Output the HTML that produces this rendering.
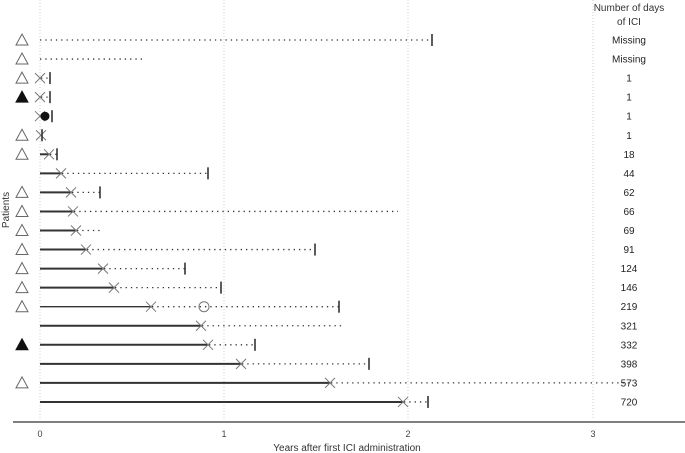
<!DOCTYPE html>
<html><head><meta charset="utf-8"><style>
html,body{margin:0;padding:0;background:#fff;}
svg{display:block;font-family:"Liberation Sans",sans-serif;}
</style></head><body>
<svg width="685" height="453" viewBox="0 0 685 453" xmlns="http://www.w3.org/2000/svg">
<g stroke="#ccc" stroke-width="1" stroke-dasharray="1,2">
<line x1="40" y1="0" x2="40" y2="420"/><line x1="224" y1="0" x2="224" y2="420"/>
<line x1="408" y1="0" x2="408" y2="420"/><line x1="593" y1="0" x2="593" y2="420"/>
</g>
<line x1="13" y1="422" x2="685" y2="422" stroke="#333" stroke-width="1.2"/>
<g font-size="9" fill="#444" text-anchor="middle">
<text x="40" y="437">0</text><text x="224" y="437">1</text><text x="408" y="437">2</text><text x="593" y="437">3</text>
</g>
<text x="347" y="451" font-size="10" fill="#333" text-anchor="middle">Years after first ICI administration</text>
<text transform="translate(9,210) rotate(-90)" font-size="10" fill="#333" text-anchor="middle">Patients</text>
<text x="629" y="11" font-size="10" fill="#333" text-anchor="middle">Number of days</text>
<text x="629" y="25" font-size="10" fill="#333" text-anchor="middle">of ICI</text>
<g id="rows"></g>
</svg>
<script>
var rows=[
[null,432,true,'o','Missing'],
[null,145,false,'o','Missing'],
[40,50,true,'o','1'],
[40,50,true,'f','1'],
[40,52,true,'','1'],
[41,42,true,'o','1'],
[49,57,true,'o','18'],
[61,208,true,'','44'],
[71,100,true,'o','62'],
[73,398,false,'o','66'],
[76,100,false,'o','69'],
[86,315,true,'o','91'],
[103,185,true,'o','124'],
[114,221,true,'o','146'],
[151,339,true,'o','219'],
[201,344,false,'','321'],
[208,255,true,'f','332'],
[241,369,true,'','398'],
[330,630,false,'o','573'],
[403,428,true,'','720']];
var s='';
rows.forEach(function(r,i){
 var y=40+i*19.05;
 var x=r[0];
 if(x!==null){
  if(x>41) s+='<line x1="40" y1="'+y+'" x2="'+x+'" y2="'+y+'" stroke="#333" stroke-width="'+(i==14?1.3:2)+'"/>';
  s+='<line x1="'+(x+1)+'" y1="'+y+'" x2="'+r[1]+'" y2="'+y+'" stroke="#333" stroke-width="1.3" stroke-dasharray="1.3,4"/>';
  s+='<path d="M'+(x-5)+' '+(y-5)+'L'+(x+5)+' '+(y+5)+'M'+(x-5)+' '+(y+5)+'L'+(x+5)+' '+(y-5)+'" stroke="#777" stroke-width="1" fill="none"/>';
 } else {
  s+='<line x1="40" y1="'+y+'" x2="'+r[1]+'" y2="'+y+'" stroke="#333" stroke-width="1.3" stroke-dasharray="1.3,4"/>';
 }
 if(r[2]) s+='<line x1="'+r[1]+'" y1="'+(y-6)+'" x2="'+r[1]+'" y2="'+(y+6)+'" stroke="#333" stroke-width="1.6"/>';
 if(r[3]) s+='<path d="M22 '+(y-6)+'L28 '+(y+5)+'L16 '+(y+5)+'Z" fill="'+(r[3]=='f'?'#111':'none')+'" stroke="'+(r[3]=='f'?'#111':'#666')+'" stroke-width="1"/>';
 if(i==4) s+='<circle cx="45" cy="'+y+'" r="4.5" fill="#111"/>';
 if(i==14) s+='<circle cx="204" cy="'+y+'" r="5" fill="none" stroke="#777" stroke-width="1"/>';
 s+='<text x="629" y="'+(y+3.5)+'" font-size="10" fill="#222" text-anchor="middle">'+r[4]+'</text>';
});
document.getElementById('rows').innerHTML=s;
</script>
</body></html>
